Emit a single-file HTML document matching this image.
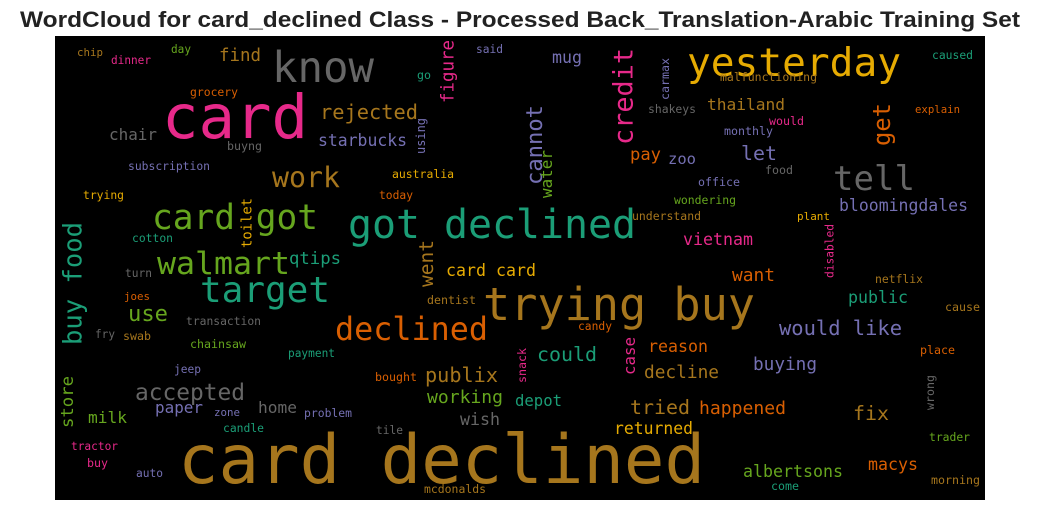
<!DOCTYPE html>
<html><head><meta charset="utf-8"><style>
html,body{margin:0;padding:0;background:#fff;width:1039px;height:511px;overflow:hidden}
svg{display:block}
</style></head><body>
<svg id="wc" width="1039" height="511" xmlns="http://www.w3.org/2000/svg">
<text x="520" y="27" text-anchor="middle" font-family="Liberation Sans, Arial, sans-serif" font-weight="bold" font-size="22" fill="#222" textLength="1000" lengthAdjust="spacingAndGlyphs">WordCloud for card_declined Class - Processed Back_Translation-Arabic Training Set</text>
<rect x="55" y="36" width="930" height="464" fill="#000"/>
<g id="words"></g>
</svg>
<script>
const C={t:"#1b9e77",o:"#d95f02",p:"#7570b3",k:"#e7298a",g:"#66a61e",y:"#e6ab02",b:"#a6761d",r:"#666666"};
// horizontal words: text, left x, baseline y, width, color
const words=[
["card declined",178,483,527,"b"],["card",162,138,146,"k"],["trying buy",483,320,272,"b"],
["got declined",348,238,288,"t"],["yesterday",687,76,214,"y"],["know",272,82,102,"r"],
["card got",152,229,166,"g"],["tell",833,190,82,"r"],["target",200,302,130,"t"],
["declined",335,340,153,"o"],["walmart",157,274,133,"g"],["work",272,187,68,"b"],
["rejected",320,119,98,"b"],["would like",779,335,123,"p"],["accepted",135,400,110,"r"],
["publix",425,382,73,"b"],["working",427,403,76,"g"],["could",537,361,60,"t"],
["decline",644,378,75,"b"],["buying",753,370,64,"p"],["tried",630,414,60,"b"],
["happened",699,414,87,"o"],["fix",853,420,36,"b"],["returned",614,434,79,"y"],
["albertsons",743,477,100,"g"],["macys",868,470,50,"o"],["morning",931,484,49,"b"],
["trader",929,441,41,"g"],["place",920,354,35,"o"],["cause",945,311,35,"b"],
["netflix",875,283,48,"b"],["public",848,303,60,"t"],["want",732,281,43,"o"],
["plant",797,220,33,"y"],["bloomingdales",839,211,129,"p"],["vietnam",683,245,70,"k"],
["understand",632,220,69,"b"],["wondering",674,204,62,"g"],["office",698,186,42,"p"],
["food",765,174,28,"r"],["let",741,160,36,"p"],["zoo",668,164,28,"p"],["pay",630,160,31,"o"],
["monthly",724,135,49,"p"],["would",769,125,35,"k"],["thailand",707,110,78,"b"],
["shakeys",648,113,48,"r"],["explain",915,113,45,"o"],["malfunctioning",720,81,97,"b"],
["caused",932,59,41,"t"],["mug",552,63,30,"p"],["said",476,53,27,"p"],["go",417,79,14,"t"],
["starbucks",318,146,89,"p"],["find",219,61,42,"b"],["chip",77,56,26,"b"],["dinner",111,64,40,"k"],
["day",171,53,20,"g"],["grocery",190,96,48,"o"],["chair",109,140,48,"r"],["buyng",227,150,35,"r"],
["subscription",128,170,82,"p"],["trying",83,199,41,"y"],["australia",392,178,62,"y"],
["today",379,199,34,"o"],["cotton",132,242,41,"t"],["qtips",289,264,52,"t"],
["card card",446,276,90,"y"],["dentist",427,304,49,"b"],["turn",125,277,27,"r"],
["joes",124,300,26,"o"],["use",128,321,40,"g"],["transaction",186,325,75,"r"],
["fry",95,338,20,"r"],["swab",123,340,28,"b"],["chainsaw",190,348,56,"g"],["payment",288,357,47,"t"],
["candy",578,330,34,"o"],["reason",648,352,60,"o"],["jeep",174,373,27,"p"],["bought",375,381,42,"o"],
["depot",515,406,47,"t"],["paper",155,413,48,"p"],["zone",214,416,26,"p"],["home",258,413,39,"r"],
["problem",304,417,48,"p"],["milk",88,423,39,"g"],["wish",460,425,40,"r"],["candle",223,432,41,"t"],
["tile",376,434,27,"r"],["tractor",71,450,47,"k"],["buy",87,467,21,"k"],["auto",136,477,27,"p"],
["mcdonalds",424,493,62,"b"],["come",771,490,28,"t"]
];
// vertical words (reading bottom-up): text, left x, bottom y, length, color
const vwords=[
["credit",612,145,97,"k"],["buy food",62,345,123,"t"],["cannot",525,185,80,"p"],
["get",872,146,43,"o"],["wrong",925,410,35,"r"],["disabled",825,278,54,"k"],
["water",540,198,48,"g"],["carmax",660,100,42,"p"],["figure",440,103,63,"k"],
["using",416,154,36,"p"],["toilet",241,248,50,"y"],["went",418,287,47,"b"],
["snack",517,383,35,"k"],["case",623,375,38,"k"],["store",60,428,52,"g"]
];
const g=document.getElementById('words');
const NS="http://www.w3.org/2000/svg";
function mk(w,rot){
  const el=document.createElementNS(NS,'text');
  const size=w[3]/(w[0].length*0.602);
  el.setAttribute('font-family','DejaVu Sans Mono, Liberation Mono, monospace');
  el.setAttribute('font-size',size.toFixed(2));
  el.setAttribute('fill',C[w[4]]);
  el.setAttribute('textLength',w[3]);
  el.setAttribute('lengthAdjust','spacingAndGlyphs');
  if(rot){
    const bx=w[1]+0.76*size;
    el.setAttribute('x',bx);el.setAttribute('y',w[2]);
    el.setAttribute('transform','rotate(-90 '+bx+' '+w[2]+')');
  }else{
    el.setAttribute('x',w[1]);el.setAttribute('y',w[2]);
  }
  el.textContent=w[0];
  
  
  g.appendChild(el);
}
words.forEach(w=>mk(w,false));
vwords.forEach(w=>mk(w,true));
</script>
</body></html>
